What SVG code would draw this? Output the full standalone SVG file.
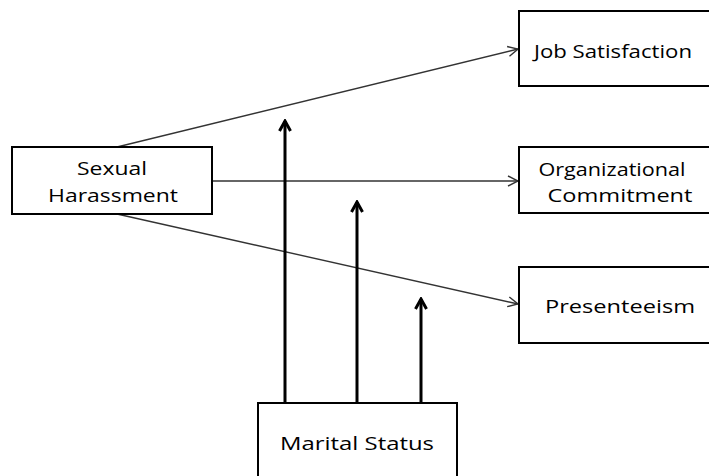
<svg xmlns="http://www.w3.org/2000/svg" width="709" height="476" viewBox="0 0 709 476">
<style>
.box{fill:#fff;stroke:#000;stroke-width:2}
.t{font-family:"Open Sans","DejaVu Sans",sans-serif;font-size:19px;fill:#000;text-anchor:middle}
.thin{stroke:#333;stroke-width:1.4;fill:none;marker-end:url(#a1)}
.thick{stroke:#000;stroke-width:3;fill:none;marker-end:url(#a2)}
</style>
<defs>
<marker id="a1" viewBox="0 0 12 12" refX="11" refY="6" markerWidth="12" markerHeight="12" markerUnits="userSpaceOnUse" orient="auto">
<path d="M1,1 L11,6 L1,11" fill="none" stroke="#333" stroke-width="1.4"/>
</marker>
<marker id="a2" viewBox="0 0 14 14" refX="12" refY="7" markerWidth="14" markerHeight="14" markerUnits="userSpaceOnUse" orient="auto">
<path d="M2,1.5 L12,7 L2,12.5" fill="none" stroke="#000" stroke-width="3"/>
</marker>
</defs>
<g id="connectors">
<line class="thin" x1="117" y1="147" x2="518" y2="49"/>
<line class="thin" x1="212" y1="181" x2="518" y2="181"/>
<line class="thin" x1="117" y1="214" x2="518" y2="304"/>
<line class="thick" x1="285" y1="403" x2="285" y2="121"/>
<line class="thick" x1="357" y1="403" x2="357" y2="202"/>
<line class="thick" x1="421" y1="403" x2="421" y2="299"/>
</g>
<g id="job">
<rect class="box" x="519" y="11" width="200" height="75"/>
<text class="t" x="613" y="58" textLength="158" lengthAdjust="spacingAndGlyphs">Job Satisfaction</text>
</g>
<g id="org">
<rect class="box" x="519" y="147" width="200" height="66"/>
<text class="t" x="612" y="176" textLength="147" lengthAdjust="spacingAndGlyphs">Organizational</text>
<text class="t" x="620" y="202" textLength="145" lengthAdjust="spacingAndGlyphs">Commitment</text>
</g>
<g id="pres">
<rect class="box" x="519" y="267" width="200" height="76"/>
<text class="t" x="620" y="313" textLength="150" lengthAdjust="spacingAndGlyphs">Presenteeism</text>
</g>
<g id="sh">
<rect class="box" x="12" y="147" width="200" height="67"/>
<text class="t" x="112" y="175" textLength="70" lengthAdjust="spacingAndGlyphs">Sexual</text>
<text class="t" x="113" y="202" textLength="130" lengthAdjust="spacingAndGlyphs">Harassment</text>
</g>
<g id="ms">
<rect class="box" x="258" y="403" width="199" height="90"/>
<text class="t" x="357" y="450" textLength="154" lengthAdjust="spacingAndGlyphs">Marital Status</text>
</g>
</svg>
